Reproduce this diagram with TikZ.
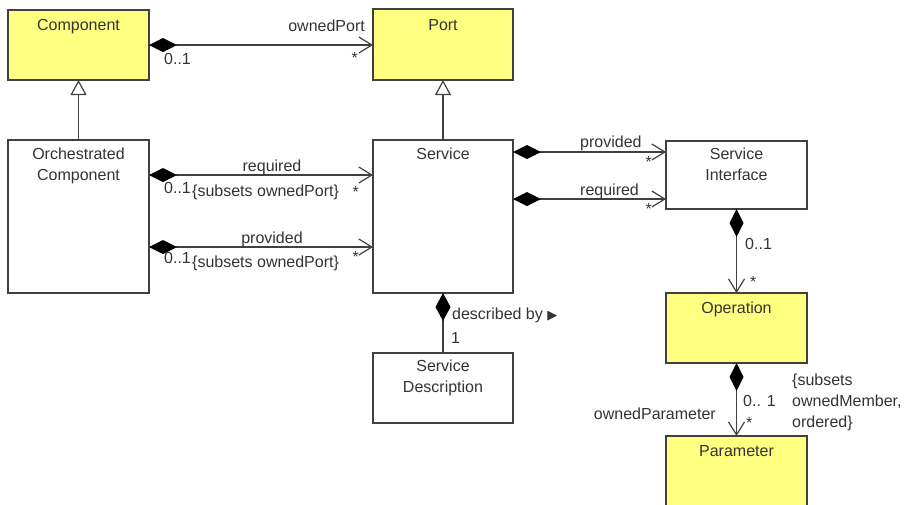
\documentclass[tikz,border=0pt]{standalone}
\usepackage{fontspec}
\setmainfont{Liberation Sans}
\newfontfamily\symfont{DejaVu Sans}
\usetikzlibrary{arrows.meta}
\definecolor{lc}{HTML}{404040}
\definecolor{tc}{HTML}{333333}
\definecolor{yel}{HTML}{FFFF80}
\begin{document}
\begin{tikzpicture}[x=1pt,y=-1pt,
  font=\fontsize{16}{21}\selectfont, text=tc,
  box/.style={draw=lc, line width=1.2pt, anchor=north west, inner sep=0pt, outer sep=0pt},
  ybox/.style={box, fill=yel},
  ttl/.style={anchor=base, inner sep=0pt, align=center},
  lbl/.style={inner sep=0pt},
  assoc/.style={draw=lc, line width=1.2pt, {Diamond[length=28pt,width=14pt,color=black]}-{Straight Barb[length=13pt,width=16pt]}},
  comps/.style={draw=lc, line width=1.2pt, {Diamond[length=28pt,width=15pt,color=black]}-},
  gen/.style={draw=lc, line width=1.2pt, -{Triangle[open,length=15pt,width=16pt,fill=white]}}
]
\useasboundingbox (0,0) rectangle (905,504);
\clip (0,0) rectangle (905,504);

% classes
\node[ybox, minimum width=141pt, minimum height=70pt] (comp) at (8,10) {};
\node[ybox, minimum width=140pt, minimum height=71pt] (port) at (373,9) {};
\node[box, minimum width=141pt, minimum height=153pt] (orch) at (8,140) {};
\node[box, minimum width=140pt, minimum height=153pt] (serv) at (373,140) {};
\node[box, minimum width=141pt, minimum height=68pt] (si) at (666,141) {};
\node[ybox, minimum width=141pt, minimum height=70pt] (op) at (666,293) {};
\node[ybox, minimum width=141pt, minimum height=90pt] (param) at (666,436) {};
\node[box, minimum width=140pt, minimum height=70pt] (sdesc) at (373,353) {};

% class names (base = baseline of the last line)
\node[ttl] (compT) at ([yshift=-20pt]comp.north) {Component};
\node[ttl] (portT) at ([yshift=-21pt]port.north) {Port};
\node[ttl] (orchT) at ([yshift=-40pt]orch.north) {Orchestrated\\Component};
\node[ttl] (servT) at ([yshift=-19pt]serv.north) {Service};
\node[ttl] (siT) at ([yshift=-39pt]si.north) {Service\\Interface};
\node[ttl] (opT) at ([yshift=-20pt]op.north) {Operation};
\node[ttl] (paramT) at ([yshift=-20pt]param.north) {Parameter};
\node[ttl] (sdescT) at ([yshift=-39pt]sdesc.north) {Service\\Description};

% generalizations
\draw[gen] (orch.north) -- (comp.south);
\draw[gen] (serv.north) -- (port.south);

% associations
\draw[assoc] (comp.east) -- (comp.east -| port.west);
\draw[assoc] (orch.east |- 0,175) -- (serv.west |- 0,175);
\draw[assoc] (orch.east |- 0,247) -- (serv.west |- 0,247);
\draw[assoc] (serv.east |- 0,152) -- (si.west |- 0,152);
\draw[assoc] (serv.east |- 0,199) -- (si.west |- 0,199);
\draw[comps] (serv.south) -- (sdesc.north);
\draw[assoc] (si.south) -- (si.south |- op.north);
\draw[assoc] (op.south) -- (op.south |- param.north);

% labels: Component - Port
\node[lbl, anchor=base east] (l1) at (365,31) {ownedPort};
\node[lbl, anchor=base west] (l2) at (164,64) {0..1};
\node[lbl, anchor=base east] (l3) at (358,63) {*};

% labels: Orchestrated - Service
\node[lbl, anchor=base] (l4) at (272,171) {required};
\node[lbl, anchor=base west] (l5) at (164,193) {0..1};
\node[lbl, anchor=base west] (l6) at (192,196) {\{subsets ownedPort\}};
\node[lbl, anchor=base east] (l7) at (359,197) {*};
\node[lbl, anchor=base] (l8) at (272,243) {provided};
\node[lbl, anchor=base west] (l9) at (164,263) {0..1};
\node[lbl, anchor=base west] (l10) at (192,267) {\{subsets ownedPort\}};
\node[lbl, anchor=base east] (l11) at (359,262) {*};

% labels: Service - Service Interface
\node[lbl, anchor=base west] (l12) at (580,147) {provided};
\node[lbl, anchor=base east] (l13) at (652,167) {*};
\node[lbl, anchor=base west] (l14) at (580,195) {required};
\node[lbl, anchor=base east] (l15) at (652,214) {*};

% labels: Service - Service Description
\node[lbl, anchor=base west] (l16) at (452,319) {described by {\symfont\fontsize{13}{13}\selectfont ▶}};
\node[lbl, anchor=base west] (l17) at (451,343) {1};

% labels: Service Interface - Operation
\node[lbl, anchor=base west] (l18) at (745,249) {0..1};
\node[lbl, anchor=base west] (l19) at (750,287) {*};

% labels: Operation - Parameter
\node[lbl, anchor=base west] (l20) at (743,406) {0.. 1};
\node[lbl, anchor=base west] (l21) at (746,428) {*};
\node[lbl, anchor=base east] (l22) at (716,419) {ownedParameter};
\node[lbl, anchor=base west, align=left] (l23) at (792,427) {\{subsets\\ownedMember,\\ordered\}};
\end{tikzpicture}
\end{document}
